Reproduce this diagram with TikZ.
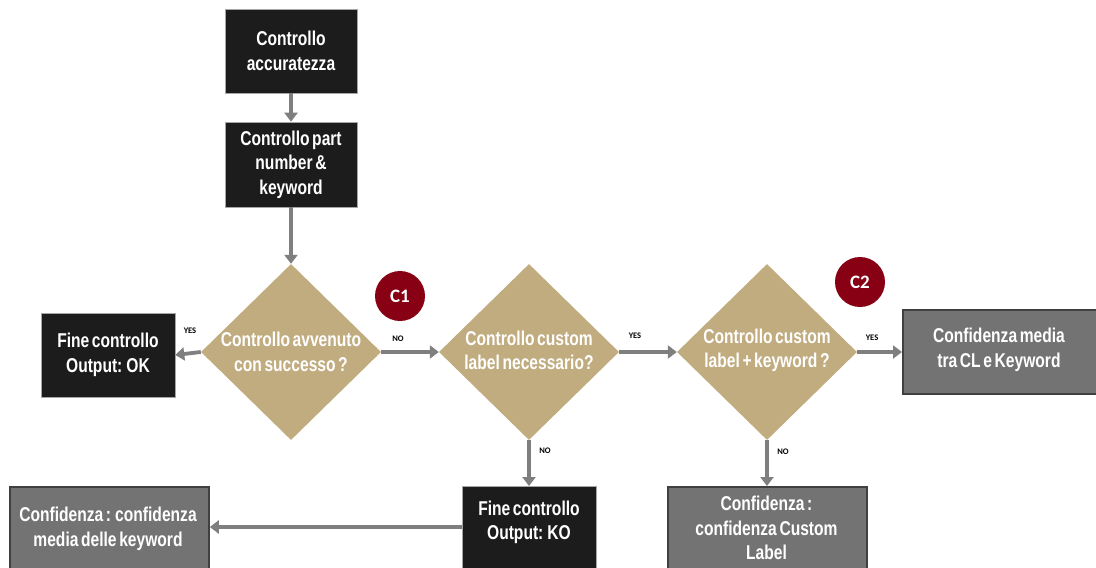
\documentclass[tikz,border=0pt]{standalone}
\usepackage{fontspec}
\setmainfont[FakeStretch=0.78,WordSpace=0.6]{Liberation Sans}
\newfontfamily\calib{Carlito}
\usetikzlibrary{shapes.geometric,arrows.meta}
\definecolor{boxblack}{HTML}{1C1C1C}
\definecolor{boxgrey}{HTML}{737373}
\definecolor{tan}{HTML}{C0AC7F}
\definecolor{arrowgrey}{HTML}{7F7F7F}
\definecolor{cred}{HTML}{870014}
\tikzset{
  txt/.style={font=\fontsize{20}{24.5}\selectfont\bfseries, text=white, align=center},
  blackbox/.style={txt, draw=gray!70, line width=0.6pt, fill=boxblack, inner sep=0pt},
  greybox/.style={txt, draw=black!75, line width=1.8pt, fill=boxgrey, inner sep=0pt},
  dia/.style={diamond, fill=tan, draw=none, inner sep=0pt, minimum width=180pt, minimum height=176pt},
  flow/.style={draw=arrowgrey, line width=3.8pt, -{Triangle[length=9pt,width=13pt]}},
  lbl/.style={font=\calib\fontsize{8.5}{9}\selectfont\bfseries, text=black},
  cmark/.style={circle, fill=cred, minimum size=50pt, inner sep=0pt, text=white, font=\calib\fontsize{19}{20}\selectfont\bfseries},
}
\begin{document}
\begin{tikzpicture}[x=1pt,y=-1pt]
\useasboundingbox (0,0) rectangle (1096,568);
\clip (0,0) rectangle (1096,568);
% boxes
\node[blackbox, minimum width=132pt, minimum height=84pt] (acc) at (291,51) {Controllo\\accuratezza};
\node[blackbox, minimum width=132pt, minimum height=85pt] (part) at (291,164.5) {Controllo part\\number \&\\keyword};
\node[blackbox, minimum width=134pt, minimum height=84pt] (ok) at (108,355) {Fine controllo\\Output: OK};
\node[greybox, minimum width=196pt, minimum height=84pt, anchor=west] (cl) at (902,352) {};
\node[txt] at (999,350) {Confidenza media\\tra CL e Keyword};
\node[blackbox, minimum width=134pt, minimum height=100pt, anchor=north west] (ko) at (462,486) {};
\node[txt] at (529,522.5) {Fine controllo\\Output: KO};
\node[greybox, minimum width=199pt, minimum height=100pt, anchor=north west] (kw) at (9,486) {};
\node[txt] at (108,529) {Confidenza : confidenza\\media delle keyword};
\node[greybox, minimum width=199pt, minimum height=100pt, anchor=north west] (lab) at (667,486) {};
\node[txt] at (766.5,528) {Confidenza :\\confidenza Custom\\Label};
% diamonds
\node[dia] (d1) at (291,352) {};
\node[txt] at (d1) {Controllo avvenuto\\con successo ?};
\node[dia] (d2) at (529,352) {};
\node[txt] at (529,350.5) {Controllo custom\\label necessario?};
\node[dia] (d3) at (767,352) {};
\node[txt] at (767,350.5) {Controllo custom\\label + keyword ?};
% markers
\node[cmark] (c1) at (400,296) {C1};
\node[cmark] (c2) at (860,282) {C2};
% connectors
\draw[flow] (acc.south) -- (part.north);
\draw[flow] (part.south) -- (d1.north);
\draw[flow] (d1.west) -- (ok.east);
\draw[flow] (d1.east) -- (d2.west);
\draw[flow] (d2.east) -- (d3.west);
\draw[flow] (d3.east) -- (cl.west);
\draw[flow] (d2.south) -- (ko.north -| d2.south);
\draw[flow] (d3.south) -- (lab.north -| d3.south);
\draw[flow] (ko.west |- 0,527) -- (kw.east |- 0,527);
% labels
\node[lbl] (y1) at (190,331) {YES};
\node[lbl] (n1) at (398,339) {NO};
\node[lbl] (y2) at (635,336) {YES};
\node[lbl] (y3) at (872,338) {YES};
\node[lbl] (n2) at (545,451) {NO};
\node[lbl] (n3) at (783,452) {NO};
\end{tikzpicture}
\end{document}
